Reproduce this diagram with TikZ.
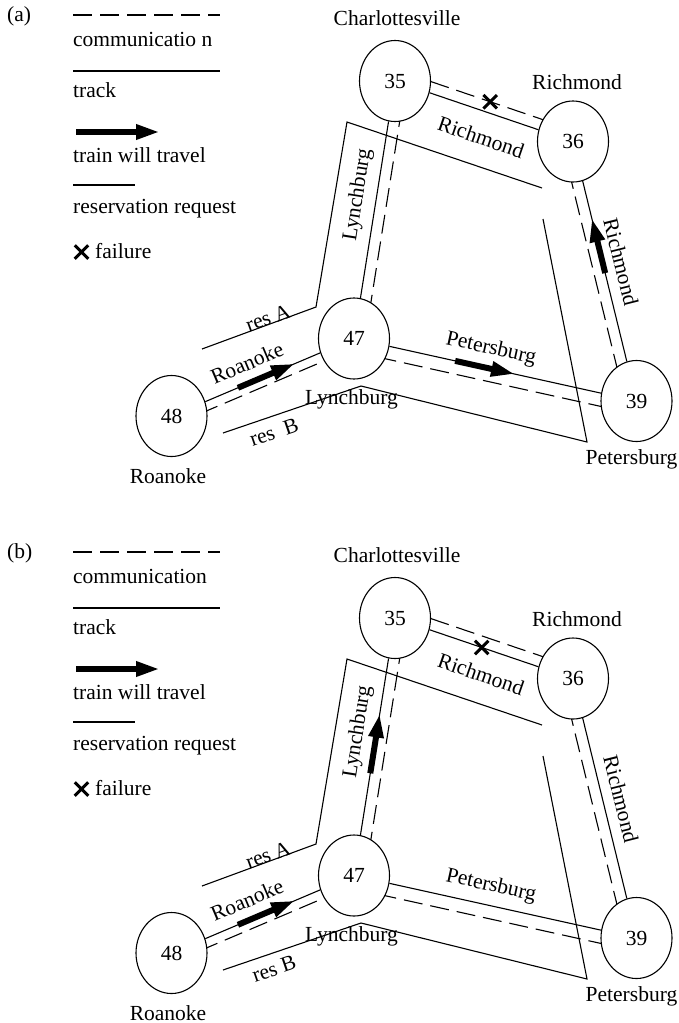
\documentclass[tikz,border=0pt]{standalone}
\usepackage{fontspec}
\setmainfont{Liberation Serif}
\usetikzlibrary{
    arrows.meta,
    calc,
    backgrounds,
    shapes.geometric,
    shapes.misc
}
\tikzset{
    station/.style={draw,ellipse,fill=white,line width=1.1pt,
        minimum width=71pt,minimum height=81pt,inner sep=0pt},
    track/.style={line width=1.1pt},
    comm/.style={line width=1.1pt,dash pattern=on 19pt off 8pt},
    resline/.style={line width=1.1pt,line join=miter},
    train/.style={line width=6pt,-{Triangle[length=24pt,width=14pt]}},
    fail/.style={draw,cross out,line width=3pt,minimum size=10.5pt,inner sep=0pt},
    legtext/.style={anchor=base west,inner sep=0pt},
    along/.style={inner sep=0.5pt}
}

\begin{document}
\begin{tikzpicture}[x=1pt,y=-1pt,font=\fontsize{21.5}{25}\selectfont]
    \useasboundingbox (0,0) rectangle (679,1023);

    % Both panels share the network, the legend and the reservations
    \foreach \p/\dy/\commtext/\resb in {a/0/{communicatio n}/{res~~B}, b/537/communication/{res B}}{
        \begin{scope}[shift={(0,\dy)}]
            % Legend
            \node[legtext] (tag\p) at (7,21.5) {(\p)};
            \draw[comm] (73,15) -- (220,15);
            \node[legtext] (lcomm\p) at (73,46) {\commtext};
            \draw[track] (73,71) -- (220,71);
            \node[legtext] (ltrack\p) at (73,97) {track};
            \draw[train] (76,132) -- (160,132);
            \node[legtext] (ltrain\p) at (73,162) {train will travel};
            \draw[resline] (73,185) -- (135,185);
            \node[legtext] (lres\p) at (73,213) {reservation request};
            \node[fail] (lx\p) at (81.5,252) {};
            \node[legtext] (lfail\p) at (95,258) {failure};

            % Stations
            \node[station] (n35\p) at (395,81) {35};
            \node[station] (n36\p) at (573,141.5) {36};
            \node[station] (n39\p) at (636.5,401) {39};
            \node[station] (n47\p) at (354,338.5) {47};
            \node[station] (n48\p) at (171.5,416) {48};

            \node[anchor=base] (tcha\p) at (397,25) {Charlottesville};
            \node[anchor=base] (tric\p) at (577,89) {Richmond};
            \node[anchor=base] (tpet\p) at (631.5,464) {Petersburg};
            \node[anchor=base] (troa\p) at (168,483) {Roanoke};
            \node[anchor=base] (tlyn\p) at (351.5,404) {Lynchburg};

            % Track with its communication line alongside
            \begin{scope}[on background layer]
                \foreach \ea/\eb/\off in {48/47/9pt,47/35/11pt,36/35/11pt,36/39/11pt,47/39/13pt}{
                    \draw[track] (n\ea\p) -- (n\eb\p);
                    \draw[comm] ($(n\ea\p)!\off!-90:(n\eb\p)$) -- ($(n\eb\p)!\off!90:(n\ea\p)$);
                }
            \end{scope}

            % Reservation requests
            \draw[resline] (202,349) -- (316,307) -- (347,122) -- (542,188);
            \draw[resline] (223,433) -- (361,386) -- (587,442) -- (543,219);
            \node[along,rotate=20] (resa\p) at (268,318) {res A};
            \node[along,rotate=19] (resb\p) at (274,432) {\resb};

            % Track names
            \node[along,rotate=23] (sroa\p) at (247,363) {Roanoke};
            \node[along,rotate=81] (slyn\p) at (358,195) {Lynchburg};
            \node[along,rotate=-19] (sric\p) at (481,137) {Richmond};
            \node[along,rotate=-76] (sric2\p) at (621,262) {Richmond};
            \node[along,rotate=-12.5] (spet\p) at (491,349) {Petersburg};

            \draw[train] ($(n48\p)!0.364!(n47\p)$) -- ($(n48\p)!0.677!(n47\p)$);
        \end{scope}
    }

    % (a): trains on to Petersburg and Richmond, communication fails
    \draw[train] ($(n47a)!0.358!(n39a)$) -- ($(n47a)!0.570!(n39a)$);
    \draw[train] ($(n39a)!0.493!(n36a)$) -- ($(n39a)!0.705!(n36a)$);
    \coordinate (fa) at ($(n36a)!0.485!(n35a)$);
    \node[fail] (xa) at ($(fa)!11pt!-90:(n35a)$) {};

    % (b): train goes to Charlottesville, the track fails
    \draw[train] ($(n47b)!0.397!(n35b)$) -- ($(n47b)!0.629!(n35b)$);
    \node[fail] (xb) at ($(n36b)!0.513!(n35b)$) {};
\end{tikzpicture}
\end{document}
